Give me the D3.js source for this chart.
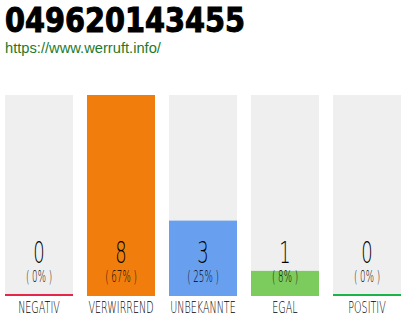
<!DOCTYPE html>
<html><head><meta charset="utf-8">
<script src="https://cdn.jsdelivr.net/npm/d3@7"></script>
<style>
html,body{margin:0;padding:0;background:#fff;}
svg{display:block;}
</style></head>
<body>
<script>
const title = "049620143455";
const subtitle = "https://www.werruft.info/";
const categories = ["NEGATIV","VERWIRREND","UNBEKANNTE","EGAL","POSITIV"];
const counts = [0, 8, 3, 1, 0];
const percents = [0, 67, 25, 8, 0];
const barColors = ["#e3264a","#f17e0c","#68a0ef","#7ccb5d","#1cb448"];

const W = 410, H = 320;
const svg = d3.select("body").append("svg").attr("width", W).attr("height", H);
const light = "'DejaVu Sans',sans-serif";

svg.append("text").attr("x", 5).attr("y", 32)
  .attr("font-family", "'DejaVu Sans Condensed',sans-serif").attr("font-weight", "bold")
  .attr("font-size", 33).attr("fill", "#000")
  .attr("textLength", 240).attr("lengthAdjust", "spacingAndGlyphs")
  .attr("stroke", "#000").attr("stroke-width", 1)
  .text(title);

svg.append("text").attr("x", 5).attr("y", 53)
  .attr("font-family", "'Liberation Sans',Arial,sans-serif")
  .attr("font-size", 14.7).attr("fill", "#1d7a2c")
  .text(subtitle);

const x = d3.scaleBand().domain(categories).range([5, 401]).paddingInner(14/82).paddingOuter(0);
const y = d3.scaleLinear().domain([0, d3.max(counts)]).range([296, 95]);

const g = svg.append("g");
const cols = g.selectAll("g.col").data(categories).join("g").attr("class","col");

cols.append("rect").attr("x", d => x(d)).attr("y", y(d3.max(counts)))
  .attr("width", x.bandwidth()).attr("height", y(0) - y(d3.max(counts)))
  .attr("fill", "#efefef");

cols.append("rect").attr("x", d => x(d))
  .attr("y", (d,i) => Math.min(y(counts[i]), y(0) - 2))
  .attr("width", x.bandwidth())
  .attr("height", (d,i) => Math.max(y(0) - y(counts[i]), 2))
  .attr("fill", (d,i) => barColors[i]);

function sx(sel, cx, baseline, scale){
  sel.attr("transform", `translate(${cx},${baseline}) scale(${scale},1)`).attr("text-anchor","middle");
}

cols.append("text").each(function(d,i){
  sx(d3.select(this), x(d) + x.bandwidth()/2, 263, 0.6);
}).attr("font-family", light).attr("font-weight", 200).attr("font-size", 30).attr("fill", "#000")
  .text((d,i) => counts[i]);

cols.append("text").each(function(d,i){
  sx(d3.select(this), x(d) + x.bandwidth()/2, 281.5, 0.58);
}).attr("font-family", light).attr("font-weight", 200).attr("font-size", 15).attr("fill", "#000")
  .text((d,i) => `( ${percents[i]}% )`);

cols.append("text").each(function(d,i){
  sx(d3.select(this), x(d) + x.bandwidth()/2, 313, 0.6);
}).attr("font-family", light).attr("font-weight", 200).attr("font-size", 16).attr("fill", "#000")
  .text(d => d);
</script>
</body></html>
